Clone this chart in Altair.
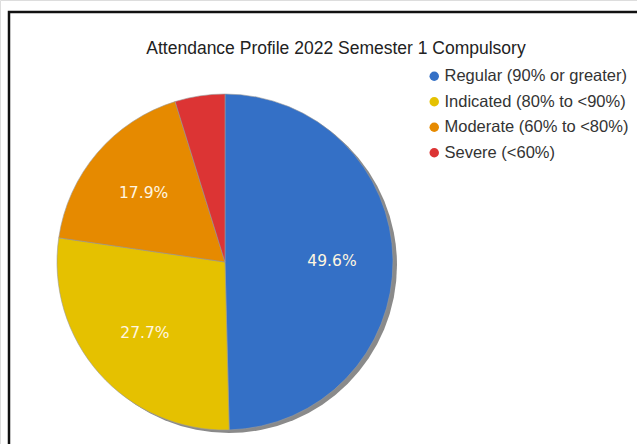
import altair as alt
import pandas as pd

categories = ["Regular (90% or greater)", "Indicated (80% to <90%)",
              "Moderate (60% to <80%)", "Severe (<60%)"]
values = [49.6, 27.7, 17.9, 4.8]
labels = ["49.6%", "27.7%", "17.9%", ""]
colors = ["#3470C6", "#E5C100", "#E68A00", "#DC3434"]
title_text = "Attendance Profile 2022 Semester 1 Compulsory"

df = pd.DataFrame({"cat": categories, "val": values, "lab": labels,
                   "ord": list(range(len(categories)))})

CX, CY, R = 225, 262, 168

shadow = alt.Chart(pd.DataFrame({"val": [sum(values)]})).mark_arc(
    color="#8a8a8a", radius=R, x=CX + 4, y=CY + 3
).encode(theta=alt.Theta("val:Q"))

pie = alt.Chart(df).mark_arc(
    radius=R, x=CX, y=CY, stroke="#9a9a9a", strokeWidth=0.6
).encode(
    theta=alt.Theta("val:Q", stack=True),
    order=alt.Order("ord:Q"),
    color=alt.Color("cat:N", scale=alt.Scale(domain=categories, range=colors),
                    legend=alt.Legend(title=None, orient="none", legendX=426,
                                      legendY=68, symbolType="circle",
                                      symbolSize=90, symbolStrokeWidth=0,
                                      labelFontSize=16.5, labelFont="Liberation Sans",
                                      labelColor="#333333", rowPadding=8.5,
                                      labelOffset=2, labelLimit=300)),
)

text = alt.Chart(df).mark_text(
    radius=107, x=CX, y=CY, font="DejaVu Sans", fontSize=15.5, color="#FFF6E0"
).encode(
    theta=alt.Theta("val:Q", stack=True),
    order=alt.Order("ord:Q"),
    text="lab:N",
)

title = alt.Chart(pd.DataFrame({"t": [title_text]})).mark_text(
    font="Liberation Sans", fontSize=17.5, color="#222222", align="center",
    baseline="middle"
).encode(x=alt.value(336), y=alt.value(49), text="t:N")

border = alt.Chart(pd.DataFrame({"a": [0]})).mark_rect(
    filled=False, stroke="#111111", strokeWidth=2.5
).encode(x=alt.value(9), y=alt.value(12), x2=alt.value(660), y2=alt.value(470))

chart = alt.layer(border, shadow, pie, text, title).properties(
    width=637, height=444, autosize="none", padding=0
).configure_view(stroke=None).configure(background="white")

chart.save("out.html", embed_options={"renderer": "svg", "actions": False})
